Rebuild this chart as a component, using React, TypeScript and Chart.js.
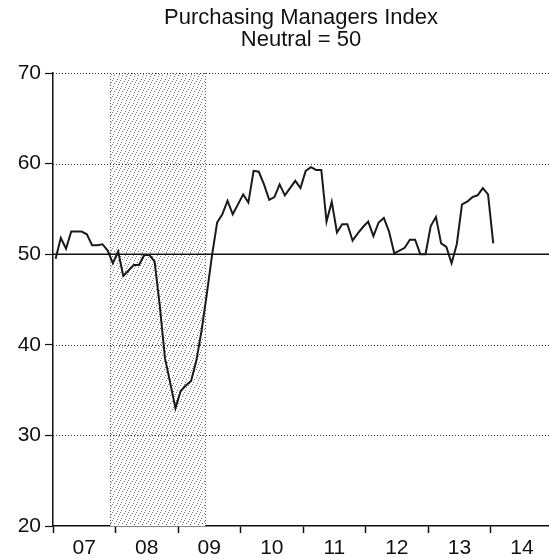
import React, { useEffect, useRef } from 'react';
import { Chart, registerables } from 'chart.js';

Chart.register(...registerables);

// ---- Data ----
const TITLE_LINES = ['Purchasing Managers Index', 'Neutral = 50'];
const YEAR_LABELS = ['07', '08', '09', '10', '11', '12', '13', '14'];
const Y_MIN = 20;
const Y_MAX = 70;
const NEUTRAL = 50;
const DOTTED_GRID = [30, 40, 60, 70];

// Monthly PMI readings, Jan 2007 onward
const PMI_2007 = [49.5, 51.8, 50.6, 52.5, 52.5, 52.5, 52.2, 51.0, 51.0, 51.1, 50.4, 49.0];
const PMI_2008 = [50.3, 47.6, 48.2, 48.8, 48.8, 49.9, 49.9, 49.2, 44.3, 38.5, 35.8, 33.0];
const PMI_2009 = [34.9, 35.5, 36.0, 38.2, 41.5, 45.5, 49.8, 53.5, 54.4, 55.9, 54.4, 55.5];
const PMI_2010 = [56.6, 55.7, 59.2, 59.1, 57.7, 56.0, 56.3, 57.7, 56.5, 57.3, 58.1, 57.3];
const PMI_2011 = [59.2, 59.6, 59.3, 59.3, 53.6, 55.8, 52.4, 53.3, 53.3, 51.5, 52.3, 53.0];
const PMI_2012 = [53.6, 52.0, 53.5, 54.0, 52.5, 50.1, 50.4, 50.7, 51.6, 51.6, 50.0, 50.0];
const PMI_2013 = [53.1, 54.1, 51.2, 50.8, 49.0, 51.1, 55.5, 55.8, 56.3, 56.5, 57.3, 56.6];
const PMI_2014 = [51.2];

// Recession shading, in months since Jan 2007
const RECESSION_START = 11;
const RECESSION_END = 29.2;
// Visible x range in months since Jan 2007
const X_MIN = 0;
const X_MAX = 95.2;

const PMI = [
  ...PMI_2007, ...PMI_2008, ...PMI_2009, ...PMI_2010,
  ...PMI_2011, ...PMI_2012, ...PMI_2013, ...PMI_2014,
];

const FONT = '"Liberation Sans", Arial, Helvetica, sans-serif';

function makePattern(): CanvasPattern | string {
  const c = document.createElement('canvas');
  c.width = 8;
  c.height = 8;
  const g = c.getContext('2d');
  if (!g) return '#e4e4e4';
  g.fillStyle = '#ffffff';
  g.fillRect(0, 0, 8, 8);
  g.fillStyle = '#7a7a7a';
  const dots = [[0, 0], [4, 1], [2, 3], [6, 4], [1, 6], [5, 7], [7, 2]];
  dots.forEach(([x, y]) => g.fillRect(x, y, 1, 1));
  const p = g.createPattern(c, 'repeat');
  return p || '#e4e4e4';
}

const backgroundPlugin = {
  id: 'pmiBackground',
  beforeDatasetsDraw(chart: any) {
    const { ctx, chartArea, scales } = chart;
    const { left, right, top, bottom } = chartArea;
    ctx.save();
    ctx.beginPath();
    ctx.rect(left, top - 2, right - left, bottom - top + 2);
    ctx.clip();

    // recession shading
    const x1 = scales.x.getPixelForValue(RECESSION_START);
    const x2 = scales.x.getPixelForValue(RECESSION_END);
    ctx.fillStyle = makePattern();
    ctx.fillRect(x1, top, x2 - x1, bottom - top);
    ctx.strokeStyle = '#666';
    ctx.lineWidth = 1;
    ctx.setLineDash([1, 2]);
    [x1, x2].forEach((x) => {
      ctx.beginPath();
      ctx.moveTo(Math.round(x) + 0.5, top);
      ctx.lineTo(Math.round(x) + 0.5, bottom);
      ctx.stroke();
    });

    // dotted grid lines
    ctx.strokeStyle = '#333';
    ctx.lineWidth = 1;
    ctx.setLineDash([1, 2]);
    DOTTED_GRID.forEach((v) => {
      const y = Math.round(scales.y.getPixelForValue(v)) + 0.5;
      ctx.beginPath();
      ctx.moveTo(left, y);
      ctx.lineTo(right, y);
      ctx.stroke();
    });

    // neutral line
    ctx.setLineDash([]);
    ctx.strokeStyle = '#111';
    ctx.lineWidth = 1.5;
    const yn = scales.y.getPixelForValue(NEUTRAL);
    ctx.beginPath();
    ctx.moveTo(left, yn);
    ctx.lineTo(right, yn);
    ctx.stroke();
    ctx.restore();
  },
};

export default function App() {
  const canvasRef = useRef<HTMLCanvasElement | null>(null);

  useEffect(() => {
    const canvas = canvasRef.current;
    if (!canvas) return;
    const points = PMI.map((v, i) => ({ x: i + 0.5, y: v }));
    const xTicks: number[] = [];
    for (let v = 0; v <= 90; v += 6) xTicks.push(v);

    const chart = new Chart(canvas, {
      type: 'line',
      data: {
        datasets: [
          {
            data: points,
            borderColor: '#1a1a1a',
            borderWidth: 2,
            pointRadius: 0,
            tension: 0,
            fill: false,
          },
        ],
      },
      options: {
        responsive: false,
        animation: false,
        devicePixelRatio: 1,
        layout: { padding: { left: 0, right: 0, top: 0, bottom: 0 } },
        plugins: {
          legend: { display: false },
          tooltip: { enabled: false },
          title: {
            display: true,
            fullSize: false,
            text: TITLE_LINES,
            color: '#111',
            font: { family: FONT, size: 22, weight: 'normal', lineHeight: 1.0 },
            padding: { top: 7, bottom: 22 },
          },
        },
        scales: {
          x: {
            type: 'linear',
            min: X_MIN,
            max: X_MAX,
            afterBuildTicks: (scale: any) => {
              scale.ticks = xTicks.map((v) => ({ value: v }));
            },
            afterFit: (scale: any) => {
              scale.height = 33;
            },
            ticks: {
              autoSkip: false,
              maxRotation: 0,
              minRotation: 0,
              padding: 3,
              color: '#111',
              font: { family: FONT, size: 21 },
              callback: (value: any) => {
                const v = Number(value);
                if (v % 12 === 6) return YEAR_LABELS[(v - 6) / 12] ?? '';
                return '';
              },
            },
            grid: {
              drawOnChartArea: false,
              drawTicks: true,
              tickLength: 7,
              tickWidth: 1.5,
              tickColor: (ctx: any) =>
                ctx.tick && ctx.tick.value % 12 === 0 ? '#111' : 'rgba(0,0,0,0)',
            },
            border: { display: true, color: '#111', width: 1.5 },
          },
          y: {
            min: Y_MIN,
            max: Y_MAX,
            afterFit: (scale: any) => {
              scale.width = 53;
            },
            ticks: {
              stepSize: 10,
              padding: 4,
              color: '#111',
              font: { family: FONT, size: 21 },
            },
            grid: {
              drawOnChartArea: false,
              drawTicks: true,
              tickLength: 8,
              tickWidth: 1.2,
              tickColor: '#111',
            },
            border: { display: true, color: '#111', width: 1.5 },
          },
        },
      },
      plugins: [backgroundPlugin],
    } as any);

    return () => chart.destroy();
  }, []);

  return (
    <div style={{ position: 'fixed', left: 0, top: 0, width: 549, height: 559, background: '#fff' }}>
      <canvas ref={canvasRef} width={549} height={559} style={{ display: 'block' }} />
    </div>
  );
}
